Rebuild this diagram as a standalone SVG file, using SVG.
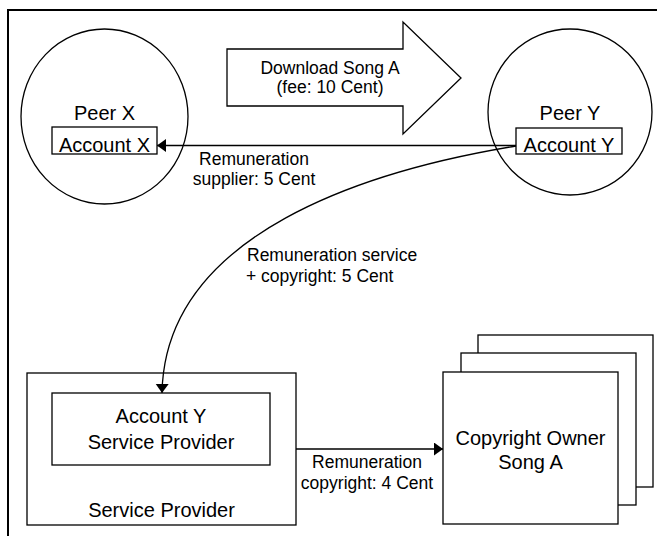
<svg xmlns="http://www.w3.org/2000/svg" width="657" height="536" viewBox="0 0 657 536">
<style>
.s{fill:#fff;stroke:#000;stroke-width:1.3}
.n{font-family:"Liberation Sans",Arial,sans-serif;font-size:20px;fill:#000;text-anchor:middle}
.l{font-family:"Liberation Sans",Arial,sans-serif;font-size:17.5px;fill:#000;text-anchor:middle}
.c{fill:none;stroke:#000;stroke-width:1.3}
</style>
<defs>
<marker id="ah" markerUnits="userSpaceOnUse" markerWidth="10" markerHeight="14" refX="9" refY="6.5" orient="auto">
<path d="M0,0 L9,6.5 L0,13 z" fill="#000"/>
</marker>
</defs>
<rect width="657" height="536" fill="#fff"/>
<rect x="8" y="10" width="700" height="600" fill="none" stroke="#000" stroke-width="2"/>
<g id="download">
<polygon class="s" points="227,49 403,49 403,22 461,78 403,134 403,106 227,106"/>
<text class="l" x="330" y="74">Download Song A</text>
<text class="l" x="330" y="93">(fee: 10 Cent)</text>
</g>
<g id="peerX">
<ellipse class="s" cx="104.5" cy="116.5" rx="83.5" ry="87.5"/>
<text class="n" x="104.5" y="120">Peer X</text>
</g>
<g id="accountX">
<rect class="s" x="52" y="127" width="105" height="27"/>
<text class="n" x="104.5" y="151.5">Account X</text>
</g>
<g id="peerY">
<ellipse class="s" cx="570" cy="112" rx="82" ry="83"/>
<text class="n" x="570" y="120">Peer Y</text>
</g>
<g id="accountY">
<rect class="s" x="516" y="128" width="106" height="26"/>
<text class="n" x="569" y="151.5">Account Y</text>
</g>
<g id="serviceProvider">
<rect class="s" x="27" y="373" width="269" height="152"/>
<text class="n" x="161.5" y="517">Service Provider</text>
</g>
<g id="accountYSP">
<rect class="s" x="52" y="393" width="218" height="72"/>
<text class="n" x="161" y="423">Account Y</text>
<text class="n" x="161" y="449">Service Provider</text>
</g>
<g id="copyrightOwner">
<rect class="s" x="478" y="335" width="175" height="152"/>
<rect class="s" x="461" y="353" width="175" height="152"/>
<rect class="s" x="443" y="372" width="175" height="152"/>
<text class="n" x="530.5" y="445">Copyright Owner</text>
<text class="n" x="530.5" y="469">Song A</text>
</g>
<g id="connectors">
<path class="c" d="M516,145.5 L157,145.5" marker-end="url(#ah)"/>
<path class="c" d="M516,146 C370,170 165,232 162,393" marker-end="url(#ah)"/>
<path class="c" d="M296,449 L443,449" marker-end="url(#ah)"/>
<text class="l" x="254" y="165">Remuneration</text>
<text class="l" x="254" y="185">supplier: 5 Cent</text>
<text class="l" x="247" y="261" style="text-anchor:start">Remuneration service</text>
<text class="l" x="246" y="282" style="text-anchor:start">+ copyright: 5 Cent</text>
<text class="l" x="367" y="468">Remuneration</text>
<text class="l" x="367" y="489">copyright: 4 Cent</text>
</g>
</svg>
